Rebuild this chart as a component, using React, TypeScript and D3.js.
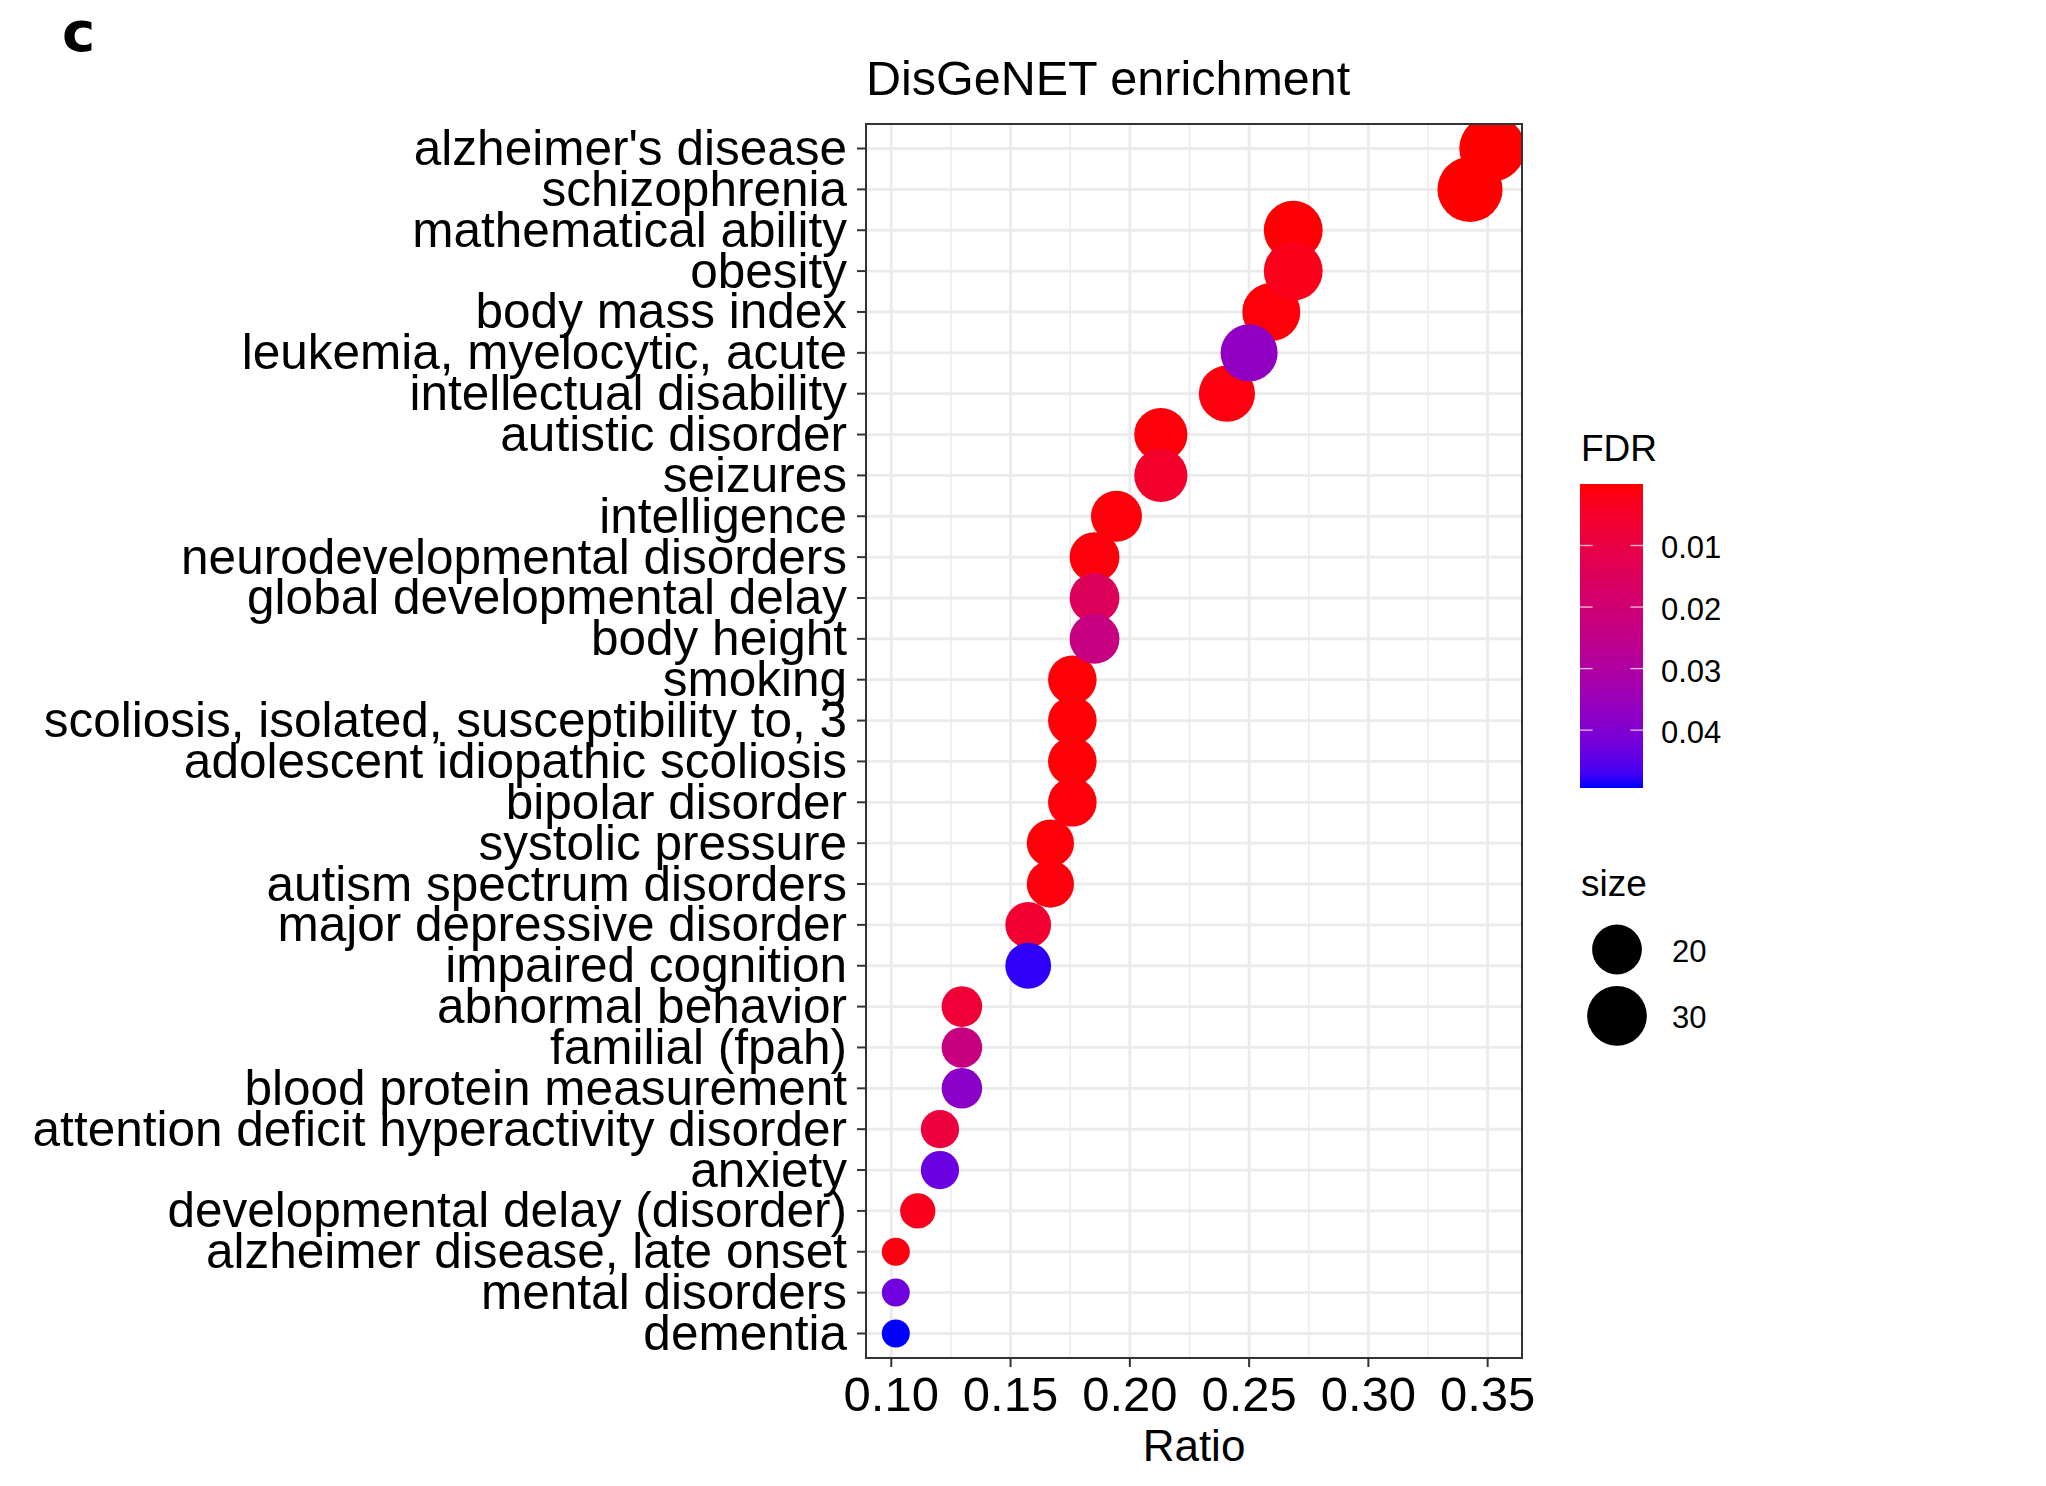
import React from "react";
import * as d3 from "d3";

// DisGeNET enrichment: terms (top to bottom), gene ratio, gene count and FDR
const diseases = [
  "alzheimer's disease",
  "schizophrenia",
  "mathematical ability",
  "obesity",
  "body mass index",
  "leukemia, myelocytic, acute",
  "intellectual disability",
  "autistic disorder",
  "seizures",
  "intelligence",
  "neurodevelopmental disorders",
  "global developmental delay",
  "body height",
  "smoking",
  "scoliosis, isolated, susceptibility to, 3",
  "adolescent idiopathic scoliosis",
  "bipolar disorder",
  "systolic pressure",
  "autism spectrum disorders",
  "major depressive disorder",
  "impaired cognition",
  "abnormal behavior",
  "familial (fpah)",
  "blood protein measurement",
  "attention deficit hyperactivity disorder",
  "anxiety",
  "developmental delay (disorder)",
  "alzheimer disease, late onset",
  "mental disorders",
  "dementia",
];

const ratio = [
  0.3519, 0.3426, 0.2685, 0.2685, 0.2593, 0.25, 0.2407, 0.213, 0.213, 0.1944,
  0.1852, 0.1852, 0.1852, 0.1759, 0.1759, 0.1759, 0.1759, 0.1667, 0.1667, 0.1574,
  0.1574, 0.1296, 0.1296, 0.1296, 0.1204, 0.1204, 0.1111, 0.1019, 0.1019, 0.1019,
];

const geneCount = [
  38, 37, 29, 29, 28, 27, 26, 23, 23, 21, 20, 20, 20, 19, 19, 19, 19, 18, 18, 17,
  17, 14, 14, 14, 13, 13, 12, 11, 11, 11,
];

const fdr = [
  0.00001, 0.00002, 0.0003, 0.0025, 0.0006, 0.037, 0.0012, 0.0008, 0.0055, 0.0007,
  0.0009, 0.0148, 0.023, 0.0004, 0.0005, 0.0005, 0.0009, 0.0006, 0.001, 0.0062,
  0.0483, 0.0072, 0.0228, 0.0385, 0.0085, 0.0432, 0.0028, 0.0012, 0.0425, 0.0494,
];

const xTicks = [0.1, 0.15, 0.2, 0.25, 0.3, 0.35];
const xMinorTicks = [0.125, 0.175, 0.225, 0.275, 0.325];
const fdrTicks = [0.01, 0.02, 0.03, 0.04];
const sizeBreaks = [20, 30];

const W = 2046;
const H = 1486;
const panel = { left: 866, right: 1522, top: 124, bottom: 1358 };
const FONT = "'Liberation Sans', Arial, Helvetica, sans-serif";

export default function App() {
  const rMin = d3.min(ratio) as number;
  const rMax = d3.max(ratio) as number;
  const pad = (rMax - rMin) * 0.05;
  const x = d3
    .scaleLinear()
    .domain([rMin - pad, rMax + pad])
    .range([panel.left, panel.right]);

  const y = d3
    .scalePoint<string>()
    .domain(diseases)
    .range([panel.top, panel.bottom])
    .padding(0.6);

  const fMin = d3.min(fdr) as number;
  const fMax = d3.max(fdr) as number;
  const color = d3
    .scaleLinear<string>()
    .domain([fMin, fMax])
    .range(["#ff0000", "#0000ff"])
    .interpolate(d3.interpolateLab);

  const kMin = d3.min(geneCount) as number;
  const kMax = d3.max(geneCount) as number;
  const sizeT = d3.scaleLinear().domain([kMin, kMax]).range([0, 1]).clamp(true);
  const rScale = d3.scaleLinear().domain([0, 1]).range([14, 32.9]);
  const radius = (k: number) => rScale(Math.sqrt(sizeT(k)));

  // least significant terms are drawn last
  const order = d3.range(diseases.length).sort((a, b) => fdr[a] - fdr[b]);

  // colour bar geometry
  const bar = { x: 1580, w: 63, top: 484, bottom: 788 };
  const barY = d3.scaleLinear().domain([fMin, fMax]).range([bar.top, bar.bottom]);
  const gradStops = d3.range(0, 1.0001, 0.05);

  return (
    <svg
      width={W}
      height={H}
      viewBox={`0 0 ${W} ${H}`}
      style={{ position: "absolute", left: 0, top: 0, background: "#fff" }}
      fontFamily={FONT}
    >
      <defs>
        <clipPath id="panel-clip">
          <rect
            x={panel.left}
            y={panel.top}
            width={panel.right - panel.left}
            height={panel.bottom - panel.top}
          />
        </clipPath>
        <linearGradient id="fdr-grad" x1="0" y1="0" x2="0" y2="1">
          {gradStops.map((t) => (
            <stop
              key={t}
              offset={`${t * 100}%`}
              stopColor={color(fMin + t * (fMax - fMin))}
            />
          ))}
        </linearGradient>
      </defs>
      <rect x={0} y={0} width={W} height={H} fill="#fff" />

      {/* panel label */}
      <text
        x={62}
        y={51}
        fontFamily="'DejaVu Sans', sans-serif"
        fontWeight="bold"
        fontSize={56}
        fill="#000"
      >
        c
      </text>

      {/* title */}
      <text x={866} y={95} fontSize={48.5} fill="#000">
        DisGeNET enrichment
      </text>

      {/* grid */}
      <g>
        {xMinorTicks.map((t) => (
          <line
            key={"mx" + t}
            x1={x(t)}
            x2={x(t)}
            y1={panel.top}
            y2={panel.bottom}
            stroke="#ebebeb"
            strokeWidth={1.5}
          />
        ))}
        {xTicks.map((t) => (
          <line
            key={"gx" + t}
            x1={x(t)}
            x2={x(t)}
            y1={panel.top}
            y2={panel.bottom}
            stroke="#ebebeb"
            strokeWidth={2.8}
          />
        ))}
        {diseases.map((d) => (
          <line
            key={"gy" + d}
            x1={panel.left}
            x2={panel.right}
            y1={y(d)}
            y2={y(d)}
            stroke="#ebebeb"
            strokeWidth={2.8}
          />
        ))}
      </g>

      {/* points */}
      <g clipPath="url(#panel-clip)">
        {order.map((i) => (
          <circle
            key={diseases[i]}
            cx={x(ratio[i])}
            cy={y(diseases[i])}
            r={radius(geneCount[i])}
            fill={color(fdr[i])}
          />
        ))}
      </g>

      {/* panel border */}
      <rect
        x={panel.left}
        y={panel.top}
        width={panel.right - panel.left}
        height={panel.bottom - panel.top}
        fill="none"
        stroke="#333333"
        strokeWidth={2}
      />

      {/* y axis */}
      <g>
        {diseases.map((d) => (
          <g key={"yt" + d}>
            <line
              x1={panel.left - 9}
              x2={panel.left}
              y1={y(d)}
              y2={y(d)}
              stroke="#333333"
              strokeWidth={2}
            />
            <text
              x={panel.left - 19}
              y={(y(d) as number) + 16.5}
              textAnchor="end"
              fontSize={49.5}
              fill="#000"
            >
              {d}
            </text>
          </g>
        ))}
      </g>

      {/* x axis */}
      <g>
        {xTicks.map((t) => (
          <g key={"xt" + t}>
            <line
              x1={x(t)}
              x2={x(t)}
              y1={panel.bottom}
              y2={panel.bottom + 9}
              stroke="#333333"
              strokeWidth={2}
            />
            <text x={x(t)} y={1411} textAnchor="middle" fontSize={49} fill="#000">
              {d3.format(".2f")(t)}
            </text>
          </g>
        ))}
        <text
          x={(panel.left + panel.right) / 2}
          y={1461}
          textAnchor="middle"
          fontSize={44}
          fill="#000"
        >
          Ratio
        </text>
      </g>

      {/* FDR colour bar */}
      <g>
        <text x={1581} y={461} fontSize={37} fill="#000">
          FDR
        </text>
        <rect
          x={bar.x}
          y={bar.top}
          width={bar.w}
          height={bar.bottom - bar.top}
          fill="url(#fdr-grad)"
        />
        {fdrTicks.map((t) => (
          <g key={"ft" + t}>
            <line
              x1={bar.x}
              x2={bar.x + bar.w / 5}
              y1={barY(t)}
              y2={barY(t)}
              stroke="#fff"
              strokeOpacity={0.75}
              strokeWidth={1.3}
            />
            <line
              x1={bar.x + bar.w - bar.w / 5}
              x2={bar.x + bar.w}
              y1={barY(t)}
              y2={barY(t)}
              stroke="#fff"
              strokeOpacity={0.75}
              strokeWidth={1.3}
            />
            <text x={1661} y={barY(t) + 13} fontSize={31} fill="#000">
              {d3.format(".2f")(t)}
            </text>
          </g>
        ))}
      </g>

      {/* size legend */}
      <g>
        <text x={1581} y={896} fontSize={37} fill="#000">
          size
        </text>
        {sizeBreaks.map((k, j) => {
          const cy = j === 0 ? 949.5 : 1015.8;
          return (
            <g key={"sz" + k}>
              <circle cx={1617} cy={cy} r={radius(k)} fill="#000" />
              <text x={1672} y={cy + 12} fontSize={31} fill="#000">
                {k}
              </text>
            </g>
          );
        })}
      </g>
    </svg>
  );
}
